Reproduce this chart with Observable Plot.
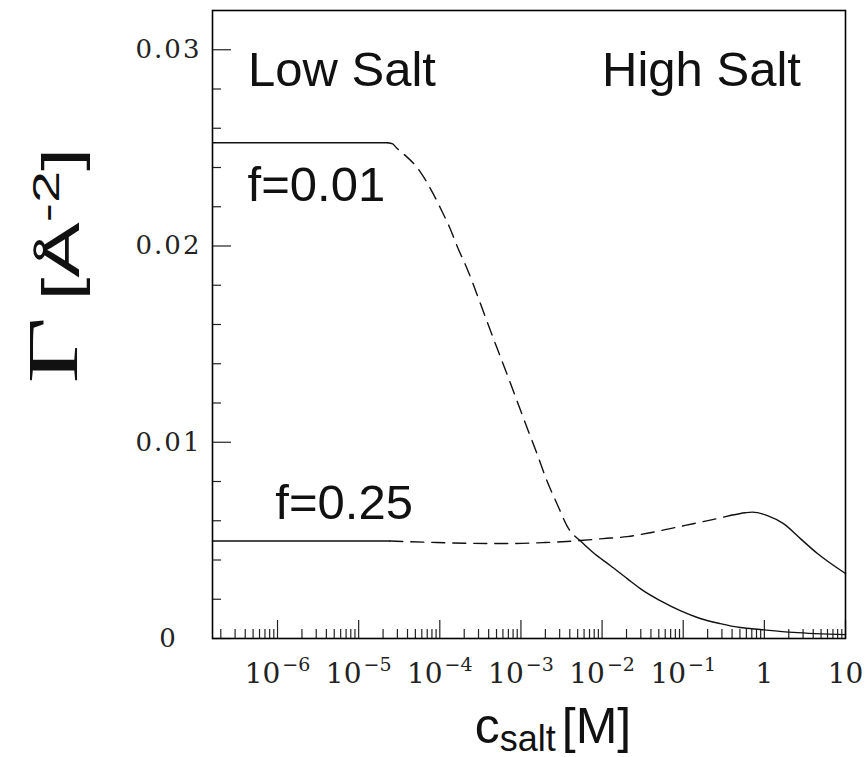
<!DOCTYPE html>
<html><head><meta charset="utf-8">
<script src="https://cdn.jsdelivr.net/npm/d3@7"></script>
<script src="https://cdn.jsdelivr.net/npm/@observablehq/plot@0.6"></script>
<style>html,body{margin:0;background:#fff}svg{display:block}</style>
</head><body><div id="chart"></div>
<script>
// ---- data ----
const f01_x = [1.58e-7, 2.28e-5, 2.63e-5, 2.94e-5, 3.49e-5, 5.66e-5, 7.96e-5, 1.06e-4, 1.33e-4, 1.67e-4, 2.15e-4, 2.86e-4, 3.80e-4, 5.06e-4, 6.71e-4, 8.93e-4, 1.19e-3, 1.58e-3, 2.09e-3, 2.78e-3, 3.80e-3, 5.35e-3, 7.74e-3, 1.26e-2, 2.04e-2, 3.21e-2, 5.20e-2, 9.18e-2, 0.162, 0.286, 0.506, 0.893, 2.28, 10];
const f01_y = [0.02526, 0.02526, 0.02520, 0.02499, 0.02473, 0.02382, 0.02280, 0.02178, 0.02092, 0.01990, 0.01888, 0.01756, 0.01618, 0.01481, 0.01349, 0.01211, 0.01074, 0.00941, 0.00804, 0.00687, 0.00565, 0.00499, 0.00438, 0.00372, 0.00305, 0.00244, 0.00193, 0.00142, 0.00102, 0.00076, 0.00056, 0.00046, 0.00031, 0.00020];
const f01_dashFrom = 2.28e-5, f01_dashTo = 5.35e-3;

const f25_x = [1.58e-7, 2.42e-5, 7.53e-5, 2.34e-4, 7.31e-4, 1.98e-3, 5.35e-3, 1.03e-2, 2.04e-2, 3.92e-2, 6.92e-2, 0.133, 0.263, 0.392, 0.582, 0.711, 1.09, 1.72, 2.78, 4.51, 10];
const f25_y = [0.00497, 0.00497, 0.00490, 0.00485, 0.00484, 0.00489, 0.00499, 0.00509, 0.00519, 0.00539, 0.00560, 0.00585, 0.00611, 0.00628, 0.00641, 0.00644, 0.00626, 0.00585, 0.00509, 0.00433, 0.00331];
const f25_dashFrom = 2.42e-5, f25_dashTo = 0.392;

const xDomain = [1.58e-7, 10];
const yDomain = [0, 0.032];
const xMajor = [1e-6, 1e-5, 1e-4, 1e-3, 1e-2, 1e-1, 1, 10];
const xTickLabels = ["10^-6", "10^-5", "10^-4", "10^-3", "10^-2", "10^-1", "1", "10"];
const xMinorMult = [2, 3, 4, 5, 6, 7, 8, 9];
const xMinorDecades = [1e-7, 1e-6, 1e-5, 1e-4, 1e-3, 1e-2, 1e-1, 1];
const yMajor = [0, 0.01, 0.02, 0.03];
const yTickLabels = ["0", "0.01", "0.02", "0.03"];
const yMinor = [0.002, 0.004, 0.006, 0.008, 0.012, 0.014, 0.016, 0.018, 0.022, 0.024, 0.026, 0.028];

const annoText = ["Low Salt", "High Salt", "f=0.01", "f=0.25"];
const annoX = [4.33e-7, 1.0e-2, 4.27e-7, 9.4e-7];
const annoY = [0.02814, 0.02814, 0.02229, 0.00611];

const xTitle = "c_salt [M]";
const yTitle = "Γ [Å^-2]";
const yTitleAt = 0.0190;

// ---- build ----
const xMinor = xMinorDecades.flatMap(d => xMinorMult.map(m => m * d)).filter(v => v >= xDomain[0] && v <= xDomain[1]);
const rows = (xs, ys) => xs.map((x, i) => ({x, y: ys[i]}));
const f01 = rows(f01_x, f01_y), f25 = rows(f25_x, f25_y);
const seg = (r, a, b) => r.filter(d => d.x >= a && d.x <= b);
const anno = annoText.map((t, i) => ({t, x: annoX[i], y: annoY[i]}));

const W = 865, H = 757, mL = 212, mR = 20, mT = 10, mB = 119;
const innerW = W - mL - mR, innerH = H - mT - mB;
const lineStyle = {x: "x", y: "y", stroke: "#111", strokeWidth: 1.4, curve: "monotone-x"};
const dashStyle = {...lineStyle, strokeDasharray: "13,8"};

const chart = Plot.plot({
  width: W, height: H,
  marginLeft: mL, marginRight: mR, marginTop: mT, marginBottom: mB,
  x: {type: "log", domain: xDomain, axis: null},
  y: {domain: yDomain, axis: null},
  style: {background: "white", overflow: "visible"},
  marks: [
    Plot.ruleX(xMajor, {x: d => d, insetTop: innerH - 18, stroke: "#222", strokeWidth: 1.2}),
    Plot.ruleX(xMinor, {x: d => d, insetTop: innerH - 9, stroke: "#222", strokeWidth: 1.2}),
    Plot.ruleY(yMajor, {y: d => d, insetRight: innerW - 19, stroke: "#222", strokeWidth: 1.2}),
    Plot.ruleY(yMinor, {y: d => d, insetRight: innerW - 9, stroke: "#222", strokeWidth: 1.2}),
    Plot.line(seg(f01, 0, f01_dashFrom), lineStyle),
    Plot.line(seg(f01, f01_dashFrom, f01_dashTo), dashStyle),
    Plot.line(seg(f01, f01_dashTo, Infinity), lineStyle),
    Plot.line(seg(f25, 0, f25_dashFrom), lineStyle),
    Plot.line(seg(f25, f25_dashFrom, f25_dashTo), dashStyle),
    Plot.line(seg(f25, f25_dashTo, Infinity), lineStyle),
    Plot.frame({stroke: "#000", strokeWidth: 1.6}),
    Plot.text(xMajor, {x: d => d, text: (d, i) => xTickLabels[i], frameAnchor: "bottom", dy: 44, lineAnchor: "bottom",
      fontSize: 28, fontFamily: "DejaVu Serif", fill: "#222"}),
    Plot.text(yMajor, {y: d => d, text: (d, i) => yTickLabels[i], frameAnchor: "left", dx: -44, textAnchor: "middle",
      fontSize: 26, fontFamily: "DejaVu Serif", fill: "#222"}),
    Plot.text(anno, {x: "x", y: "y", text: "t", textAnchor: "start", lineAnchor: "bottom",
      fontSize: 49, fontFamily: "Liberation Sans", fill: "#111"}),
    Plot.text([xTitle], {frameAnchor: "bottom", dx: 24, dy: 104, lineAnchor: "bottom", text: d => d,
      fontSize: 50, fontFamily: "Liberation Sans", fill: "#111"}),
    Plot.text([yTitle], {y: () => yTitleAt, frameAnchor: "left", dx: -134, rotate: -90, textAnchor: "middle", lineAnchor: "bottom", text: d => d,
      fontSize: 52, fontFamily: "Liberation Sans", fill: "#111"})
  ]
});
document.getElementById("chart").append(chart);

// ---- rich text (superscripts / subscripts) ----
const svg = d3.select(chart);
svg.selectAll("text").each(function () {
  const s = this.textContent;
  const t = d3.select(this);
  if (s === xTitle) {
    t.text(null);
    t.append("tspan").attr("font-size", 50).text("c");
    t.append("tspan").attr("font-size", 36).attr("dy", 8).text("salt");
    t.append("tspan").attr("font-size", 50).attr("dy", -8).attr("dx", 6).text("[M]");
  } else if (s === yTitle) {
    t.text(null);
    t.attr("transform", (t.attr("transform") || "") + " scale(1.6,1)");
    t.append("tspan").attr("font-family", "Liberation Serif").attr("font-size", 72).attr("dy", -2).text("Γ");
    t.append("tspan").attr("font-size", 52).attr("dy", 2).attr("dx", 10).text("[Å");
    t.append("tspan").attr("font-size", 36).attr("dy", -20).text("-2");
    t.append("tspan").attr("font-size", 52).attr("dy", 20).text("]");
  } else if (xTickLabels.includes(s) && s.includes("^")) {
    const [base, exp] = s.split("^");
    t.text(null);
    t.append("tspan").text(base);
    t.append("tspan").attr("font-size", 19).attr("dy", -12).attr("dx", 2).text(exp.replace("-", "\u2212"));
  } else if (yTickLabels.includes(s)) {
    t.attr("letter-spacing", 2);
  }
});
</script>
</body></html>
